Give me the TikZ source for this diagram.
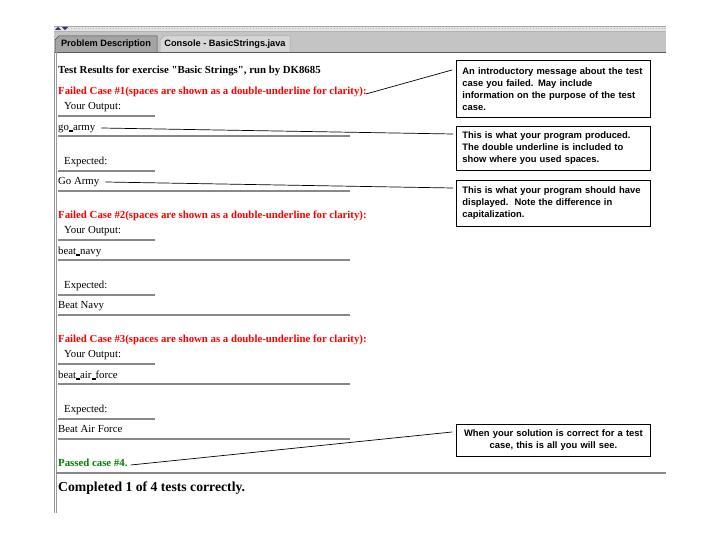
\documentclass[tikz,border=0pt]{standalone}
\usepackage{fontspec}
\setmainfont{Liberation Serif}[Ligatures=TeXOff]
\newfontfamily\arialf{Liberation Sans}
\definecolor{tabbar}{HTML}{C4C4C4}
\definecolor{tabdark}{HTML}{A4A4A4}
\definecolor{tablight}{HTML}{D6D6D6}
\definecolor{strip}{HTML}{E4E4E4}
\definecolor{ulgray}{HTML}{888888}
\definecolor{passgreen}{HTML}{008000}
\definecolor{arrowblue}{HTML}{303070}
\newcommand\dus{\rlap{\rule[0.3pt]{4pt}{0.5pt}}\rule[-1.1pt]{4pt}{0.5pt}}
\tikzset{
  txt/.style={anchor=west, inner sep=0pt, text height=7.5pt, text depth=2.2pt, font=\fontsize{10.8}{13}\selectfont},
  hd/.style={txt, font=\fontsize{10.8}{13}\selectfont\bfseries},
  failhd/.style={hd, text=red},
  ul/.style={draw=ulgray, line width=1.3pt},
  callout/.style={draw=black, line width=0.8pt, anchor=north west, inner xsep=6pt, inner ysep=0pt,
     text width=182pt, font=\arialf\bfseries\fontsize{9.4}{12}\selectfont, align=left},
  lead/.style={draw=black, line width=0.7pt},
  tablabel/.style={inner sep=0pt, font=\arialf\bfseries\fontsize{9.2}{10}\selectfont}
}
\begin{document}
\begin{tikzpicture}[x=1pt,y=-1pt]
\useasboundingbox (0,0) rectangle (720,540);
\fill[white] (0,0) rectangle (720,540);
% window chrome
\fill[strip] (54,26) rectangle (666,31);
\draw[gray!70, line width=0.5pt] (54,26) -- (666,26);
\draw[gray!55, line width=0.8pt, dotted] (68,28.5) -- (666,28.5);
\fill[arrowblue] (55,30) -- (58,26.8) -- (61,30) -- cycle;
\fill[arrowblue] (62,27) -- (65,30.2) -- (68,27) -- cycle;
\fill[tabbar] (54,31) rectangle (666,52);
\draw[gray!60, line width=0.5pt] (54,31) -- (666,31);
\filldraw[fill=tabdark, draw=gray!60!black, line width=0.5pt] (55,52) -- (55,40) -- (59,36) -- (157,36) -- (157,52);
\filldraw[fill=tablight, draw=gray!70, line width=0.5pt] (160,52) -- (160,40) -- (164,36) -- (290,36) -- (290,52);
\node[tablabel] (tab1) at (106,44) {Problem Description};
\node[tablabel] (tab2) at (225,44) {Console - BasicStrings.java};
\draw[gray!70!black, line width=0.8pt] (54,52.5) -- (666,52.5);
% left border
\draw[gray!80, line width=0.7pt] (54,52) -- (54,513);
\draw[gray!80, line width=0.7pt] (56.5,52) -- (56.5,513);
% content
\node[hd] (title) at (58,71) {Test Results for exercise "Basic Strings", run by DK8685};
% case 1
\node[failhd] (fc1) at (58,92) {Failed Case \#1(spaces are shown as a double-underline for clarity):};
\node[txt] (yo1) at (64,107) {Your Output:};
\draw[ul] (58,116) -- (155,116);
\node[txt] (out1) at (58,128) {go\dus army};
\draw[ul] (58,136) -- (350,136);
\node[txt] (ex1) at (64,162) {Expected:};
\draw[ul] (58,171) -- (155,171);
\node[txt] (exp1) at (58,182) {Go Army};
\draw[ul] (58,191) -- (350,191);
% case 2
\node[failhd] (fc2) at (58,216) {Failed Case \#2(spaces are shown as a double-underline for clarity):};
\node[txt] (yo2) at (64,231) {Your Output:};
\draw[ul] (58,240) -- (155,240);
\node[txt] (out2) at (58,252) {beat\dus navy};
\draw[ul] (58,260) -- (350,260);
\node[txt] (ex2) at (64,286) {Expected:};
\draw[ul] (58,295) -- (155,295);
\node[txt] (exp2) at (58,306) {Beat Navy};
\draw[ul] (58,315) -- (350,315);
% case 3
\node[failhd] (fc3) at (58,340) {Failed Case \#3(spaces are shown as a double-underline for clarity):};
\node[txt] (yo3) at (64,355) {Your Output:};
\draw[ul] (58,364) -- (155,364);
\node[txt] (out3) at (58,376) {beat\dus air\dus force};
\draw[ul] (58,384) -- (350,384);
\node[txt] (ex3) at (64,410) {Expected:};
\draw[ul] (58,419) -- (155,419);
\node[txt] (exp3) at (58,430) {Beat Air Force};
\draw[ul] (58,439) -- (350,439);
% passed
\node[hd, text=passgreen] (pass4) at (58,464) {Passed case \#4.};
\draw[ul] (56,473) -- (666,473);
\node[txt, text height=9.5pt, text depth=3pt, font=\fontsize{13.7}{15}\selectfont\bfseries] (done) at (58,488) {Completed 1 of 4 tests correctly.};
% callouts
\node[callout, minimum height=57pt] (b1) at (456,60) {An introductory message about the test\\ case you failed. May include\\ information on the purpose of the test\\ case.};
\node[callout, minimum height=44pt] (b2) at (456,126) {This is what your program produced.\\ The double underline is included to\\ show where you used spaces.};
\node[callout, minimum height=46pt] (b3) at (456,180) {This is what your program should have\\ displayed.\ \ Note the difference in\\ capitalization.};
\node[callout, minimum height=32pt, align=center] (b4) at (456,424) {When your solution is correct for a test\\ case, this is all you will see.};
% leader lines
\coordinate (c1) at (452,70);
\coordinate (c2) at (453,134);
\coordinate (c3) at (453,188);
\coordinate (c4) at (452,432);
\draw[lead] ([xshift=-1pt,yshift=-2pt]fc1.east) -- (c1);
\draw[lead] ([xshift=6pt]out1.east) -- (c2);
\draw[lead] ([xshift=6pt]exp1.east) -- (c3);
\draw[lead] ([xshift=3pt,yshift=-1pt]pass4.east) -- (c4);
\end{tikzpicture}
\end{document}
